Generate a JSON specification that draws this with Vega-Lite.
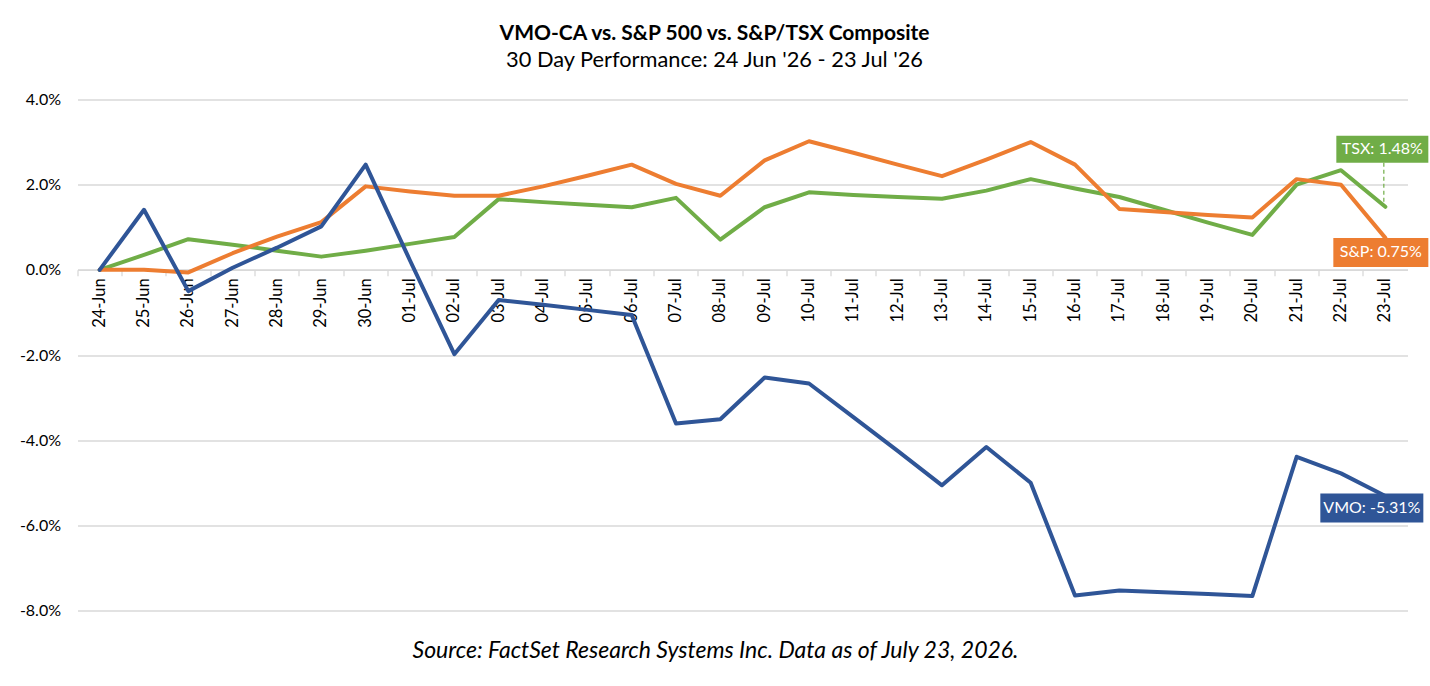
{
  "$schema": "https://vega.github.io/schema/vega-lite/v6.json",
  "width": 1330,
  "height": 511,
  "autosize": {"type": "none"},
  "padding": {"left": 77.5, "top": 99.5, "right": 22.5, "bottom": 75.5},
  "background": "white",
  "config": {"font": "Lato", "view": {"stroke": null}},
  "title": {
    "text": "VMO-CA vs. S&P 500 vs. S&P/TSX Composite",
    "subtitle": "30 Day Performance: 24 Jun '26 - 23 Jul '26",
    "anchor": "middle",
    "frame": "group",
    "dx": -28,
    "offset": 20,
    "font": "Lato",
    "fontSize": 21,
    "fontWeight": "bold",
    "color": "#000000",
    "subtitleFont": "Lato",
    "subtitleFontSize": 21.8,
    "subtitleColor": "#000000",
    "subtitlePadding": 6
  },
  "datasets": {
    "perf": [
      {"date": "24-Jun", "VMO": 0, "SP": 0, "TSX": 0},
      {"date": "25-Jun", "VMO": 1.41, "SP": 0.0, "TSX": 0.35},
      {"date": "26-Jun", "VMO": -0.5, "SP": -0.06, "TSX": 0.72},
      {"date": "27-Jun", "VMO": 0.05, "SP": 0.39, "TSX": 0.59},
      {"date": "28-Jun", "VMO": 0.52, "SP": 0.78, "TSX": 0.45},
      {"date": "29-Jun", "VMO": 1.02, "SP": 1.12, "TSX": 0.31},
      {"date": "30-Jun", "VMO": 2.47, "SP": 1.96, "TSX": 0.45},
      {"date": "01-Jul", "VMO": 0.22, "SP": 1.84, "TSX": 0.61},
      {"date": "02-Jul", "VMO": -1.98, "SP": 1.74, "TSX": 0.77},
      {"date": "03-Jul", "VMO": -0.71, "SP": 1.74, "TSX": 1.66},
      {"date": "04-Jul", "VMO": -0.82, "SP": 1.96, "TSX": 1.59},
      {"date": "05-Jul", "VMO": -0.94, "SP": 2.21, "TSX": 1.53},
      {"date": "06-Jul", "VMO": -1.06, "SP": 2.47, "TSX": 1.47},
      {"date": "07-Jul", "VMO": -3.61, "SP": 2.02, "TSX": 1.69},
      {"date": "08-Jul", "VMO": -3.51, "SP": 1.74, "TSX": 0.71},
      {"date": "09-Jul", "VMO": -2.53, "SP": 2.57, "TSX": 1.47},
      {"date": "10-Jul", "VMO": -2.67, "SP": 3.02, "TSX": 1.82},
      {"date": "11-Jul", "VMO": -3.46, "SP": 2.75, "TSX": 1.76},
      {"date": "12-Jul", "VMO": -4.25, "SP": 2.47, "TSX": 1.71},
      {"date": "13-Jul", "VMO": -5.06, "SP": 2.2, "TSX": 1.67},
      {"date": "14-Jul", "VMO": -4.16, "SP": 2.59, "TSX": 1.86},
      {"date": "15-Jul", "VMO": -5.0, "SP": 3.0, "TSX": 2.13},
      {"date": "16-Jul", "VMO": -7.65, "SP": 2.47, "TSX": 1.91},
      {"date": "17-Jul", "VMO": -7.53, "SP": 1.43, "TSX": 1.71},
      {"date": "18-Jul", "VMO": -7.57, "SP": 1.36, "TSX": 1.41},
      {"date": "19-Jul", "VMO": -7.61, "SP": 1.29, "TSX": 1.11},
      {"date": "20-Jul", "VMO": -7.66, "SP": 1.23, "TSX": 0.82},
      {"date": "21-Jul", "VMO": -4.39, "SP": 2.13, "TSX": 2.0},
      {"date": "22-Jul", "VMO": -4.78, "SP": 2.0, "TSX": 2.34},
      {"date": "23-Jul", "VMO": -5.31, "SP": 0.75, "TSX": 1.48}
    ],
    "ends": [
      {"series": "TSX", "date": "23-Jul", "value": 1.48, "label": "TSX: 1.48%"},
      {"series": "SP", "date": "23-Jul", "value": 0.75, "label": "S&P: 0.75%"},
      {"series": "VMO", "date": "23-Jul", "value": -5.31, "label": "VMO: -5.31%"}
    ]
  },
  "resolve": {"axis": {"x": "independent"}},
  "layer": [
    {
      "data": {"name": "perf"},
      "transform": [{"fold": ["TSX", "SP", "VMO"], "as": ["series", "value"]}],
      "mark": {"type": "line", "strokeWidth": 4, "strokeJoin": "round", "strokeCap": "round"},
      "encoding": {
        "x": {
          "field": "date",
          "type": "ordinal",
          "scale": {
            "type": "band",
            "paddingInner": 0,
            "paddingOuter": 0,
            "domain": ["24-Jun","25-Jun","26-Jun","27-Jun","28-Jun","29-Jun","30-Jun","01-Jul","02-Jul","03-Jul","04-Jul","05-Jul","06-Jul","07-Jul","08-Jul","09-Jul","10-Jul","11-Jul","12-Jul","13-Jul","14-Jul","15-Jul","16-Jul","17-Jul","18-Jul","19-Jul","20-Jul","21-Jul","22-Jul","23-Jul"]
          },
          "axis": {
            "orient": "bottom",
            "offset": -340.67,
            "labelAngle": -90,
            "labelFontSize": 16.5,
            "labelColor": "#000000",
            "labelPadding": 8,
            "ticks": false,
            "domain": true,
            "domainColor": "#D9D9D9",
            "domainWidth": 1.3,
            "grid": false,
            "title": null
          }
        },
        "y": {
          "field": "value",
          "type": "quantitative",
          "scale": {"domain": [-8, 4], "nice": false, "zero": false},
          "axis": {
            "values": [-8, -6, -4, -2, 0, 2, 4],
            "labelExpr": "(datum.value < 0 ? '-' : '') + format(abs(datum.value), '.1f') + '%'",
            "labelFontSize": 16,
            "labelColor": "#000000",
            "labelPadding": 17,
            "ticks": false,
            "domain": false,
            "grid": true,
            "gridColor": "#D9D9D9",
            "gridWidth": 1.3,
            "title": null
          }
        },
        "color": {
          "field": "series",
          "type": "nominal",
          "scale": {"domain": ["TSX", "SP", "VMO"], "range": ["#70AD47", "#ED7D31", "#2F5597"]},
          "legend": null
        }
      }
    },
    {
      "data": {"name": "ends"},
      "mark": {"type": "point", "filled": true, "size": 10000, "opacity": 1, "strokeWidth": 0},
      "encoding": {
        "x": {
          "field": "date",
          "type": "ordinal",
          "axis": {
            "orient": "bottom",
            "offset": -340.67,
            "bandPosition": 0,
            "labels": false,
            "domain": false,
            "ticks": true,
            "tickSize": 6,
            "tickColor": "#D9D9D9",
            "tickWidth": 1.3,
            "grid": false,
            "title": null
          }
        },
        "y": {"field": "value", "type": "quantitative"},
        "color": {"field": "series", "type": "nominal", "legend": null},
        "shape": {
          "field": "series",
          "type": "nominal",
          "scale": {
            "domain": ["TSX", "SP", "VMO"],
            "range": ["M-0.98,-1.42H0.86V-0.88H-0.98Z", "M-1.04,0H0.86V0.58H-1.04Z", "M-1.3,-0.05H0.76V0.53H-1.3Z"]
          },
          "legend": null
        }
      }
    },
    {
      "data": {"name": "ends"},
      "transform": [{"filter": "datum.series === 'TSX'"}],
      "mark": {"type": "point", "filled": false, "size": 10000, "shape": "M-0.03,-0.88V-0.04", "stroke": "#70AD47", "strokeWidth": 1.2, "strokeDash": [4, 3], "opacity": 1},
      "encoding": {
        "x": {
          "field": "date",
          "type": "ordinal",
          "axis": {
            "orient": "bottom",
            "offset": 0,
            "labels": false,
            "domain": false,
            "ticks": false,
            "grid": false,
            "title": "Source: FactSet Research Systems Inc. Data as of July 23, 2026.",
            "titleFont": "Lato",
            "titleFontStyle": "italic",
            "titleFontWeight": "normal",
            "titleFontSize": 23,
            "titleColor": "#000000",
            "titlePadding": 29,
            "titleX": 637.5,
            "titleAlign": "center",
            "titleBaseline": "top"
          }
        },
        "y": {"field": "value", "type": "quantitative"}
      }
    },
    {
      "data": {"name": "ends"},
      "transform": [{"filter": "datum.series === 'TSX'"}],
      "mark": {"type": "text", "dx": -3, "dy": -57.5, "align": "center", "baseline": "middle", "fill": "#FFFFFF", "fontSize": 16, "font": "Lato"},
      "encoding": {
        "x": {"field": "date", "type": "ordinal", "axis": null},
        "y": {"field": "value", "type": "quantitative"},
        "text": {"field": "label"}
      }
    },
    {
      "data": {"name": "ends"},
      "transform": [{"filter": "datum.series === 'SP'"}],
      "mark": {"type": "text", "dx": -4.5, "dy": 14.5, "align": "center", "baseline": "middle", "fill": "#FFFFFF", "fontSize": 16, "font": "Lato"},
      "encoding": {
        "x": {"field": "date", "type": "ordinal", "axis": null},
        "y": {"field": "value", "type": "quantitative"},
        "text": {"field": "label"}
      }
    },
    {
      "data": {"name": "ends"},
      "transform": [{"filter": "datum.series === 'VMO'"}],
      "mark": {"type": "text", "dx": -13.5, "dy": 12, "align": "center", "baseline": "middle", "fill": "#FFFFFF", "fontSize": 16, "font": "Lato"},
      "encoding": {
        "x": {"field": "date", "type": "ordinal", "axis": null},
        "y": {"field": "value", "type": "quantitative"},
        "text": {"field": "label"}
      }
    }
  ]
}
